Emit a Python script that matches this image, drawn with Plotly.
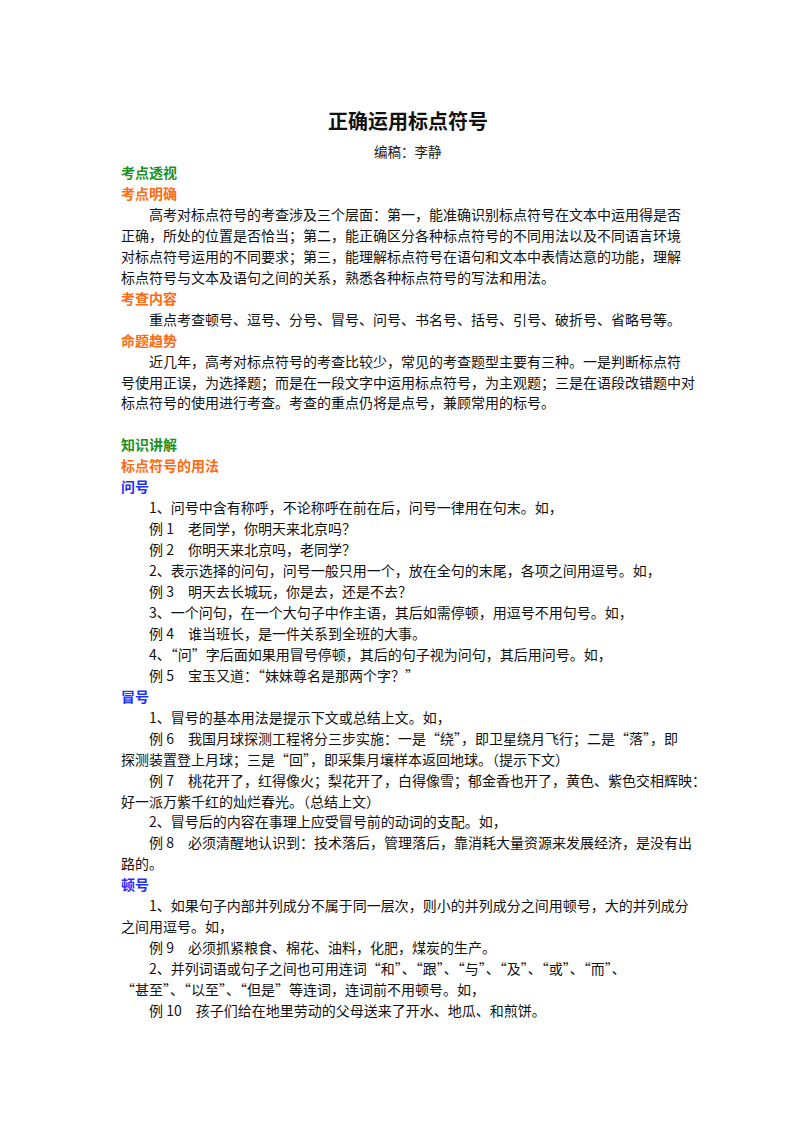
import plotly.graph_objects as go

title = "正确运用标点符号"
author = "编稿：李静"

# (style, indent, text); style: g=green head, o=orange head, b=blue head, t=text, x=blank
lines = [
    ("g", 0, "考点透视"),
    ("o", 0, "考点明确"),
    ("t", 1, "高考对标点符号的考查涉及三个层面：第一，能准确识别标点符号在文本中运用得是否"),
    ("t", 0, "正确，所处的位置是否恰当；第二，能正确区分各种标点符号的不同用法以及不同语言环境"),
    ("t", 0, "对标点符号运用的不同要求；第三，能理解标点符号在语句和文本中表情达意的功能，理解"),
    ("t", 0, "标点符号与文本及语句之间的关系，熟悉各种标点符号的写法和用法。"),
    ("o", 0, "考查内容"),
    ("t", 1, "重点考查顿号、逗号、分号、冒号、问号、书名号、括号、引号、破折号、省略号等。"),
    ("o", 0, "命题趋势"),
    ("t", 1, "近几年，高考对标点符号的考查比较少，常见的考查题型主要有三种。一是判断标点符"),
    ("t", 0, "号使用正误，为选择题；而是在一段文字中运用标点符号，为主观题；三是在语段改错题中对"),
    ("t", 0, "标点符号的使用进行考查。考查的重点仍将是点号，兼顾常用的标号。"),
    ("x", 0, ""),
    ("g", 0, "知识讲解"),
    ("o", 0, "标点符号的用法"),
    ("b", 0, "问号"),
    ("t", 1, "1、问号中含有称呼，不论称呼在前在后，问号一律用在句末。如，"),
    ("t", 1, "例 1　老同学，你明天来北京吗？"),
    ("t", 1, "例 2　你明天来北京吗，老同学？"),
    ("t", 1, "2、表示选择的问句，问号一般只用一个，放在全句的末尾，各项之间用逗号。如，"),
    ("t", 1, "例 3　明天去长城玩，你是去，还是不去？"),
    ("t", 1, "3、一个问句，在一个大句子中作主语，其后如需停顿，用逗号不用句号。如，"),
    ("t", 1, "例 4　谁当班长，是一件关系到全班的大事。"),
    ("t", 1, "4、“问”字后面如果用冒号停顿，其后的句子视为问句，其后用问号。如，"),
    ("t", 1, "例 5　宝玉又道：“妹妹尊名是那两个字？”"),
    ("b", 0, "冒号"),
    ("t", 1, "1、冒号的基本用法是提示下文或总结上文。如，"),
    ("t", 1, "例 6　我国月球探测工程将分三步实施：一是“绕”，即卫星绕月飞行；二是“落”，即"),
    ("t", 0, "探测装置登上月球；三是“回”，即采集月壤样本返回地球。（提示下文）"),
    ("t", 1, "例 7　桃花开了，红得像火；梨花开了，白得像雪；郁金香也开了，黄色、紫色交相辉映："),
    ("t", 0, "好一派万紫千红的灿烂春光。（总结上文）"),
    ("t", 1, "2、冒号后的内容在事理上应受冒号前的动词的支配。如，"),
    ("t", 1, "例 8　必须清醒地认识到：技术落后，管理落后，靠消耗大量资源来发展经济，是没有出"),
    ("t", 0, "路的。"),
    ("b", 0, "顿号"),
    ("t", 1, "1、如果句子内部并列成分不属于同一层次，则小的并列成分之间用顿号，大的并列成分"),
    ("t", 0, "之间用逗号。如，"),
    ("t", 1, "例 9　必须抓紧粮食、棉花、油料，化肥，煤炭的生产。"),
    ("t", 1, "2、并列词语或句子之间也可用连词“和”、“跟”、“与”、“及”、“或”、“而”、"),
    ("t", 0, "“甚至”、“以至”、“但是”等连词，连词前不用顿号。如，"),
    ("t", 1, "例 10　孩子们给在地里劳动的父母送来了开水、地瓜、和煎饼。"),
]

colors = {"g": "#1f8f1f", "o": "#ff6a13", "b": "#1f2fff", "t": "#111111"}
FONT = "Noto Sans CJK SC"

fig = go.Figure()
ann = []
ann.append(dict(x=400, y=112, text="<b>" + title + "</b>", xanchor="center", yanchor="middle",
                showarrow=False, font=dict(family=FONT, size=20, color="#111")))
ann.append(dict(x=400, y=143, text=author, xanchor="center", yanchor="middle",
                showarrow=False, font=dict(family=FONT, size=13.5, color="#222")))
y0, step = 164, 20.95
for k, (st, ind, txt) in enumerate(lines):
    if st == "x":
        continue
    y = y0 + k * step
    head = st != "t"
    ann.append(dict(x=111 + ind * 28, y=y, text=("<b>%s</b>" % txt) if head else txt,
                    xanchor="left", yanchor="middle", showarrow=False,
                    font=dict(family=FONT, size=14 if head else 14, color=colors[st])))

fig.update_layout(width=800, height=1132, margin=dict(l=0, r=0, t=0, b=0),
                  paper_bgcolor="white", plot_bgcolor="white", annotations=ann,
                  xaxis=dict(range=[0, 800], visible=False, fixedrange=True),
                  yaxis=dict(range=[1132, 0], visible=False, fixedrange=True),
                  showlegend=False)
fig.write_html("out.html")
